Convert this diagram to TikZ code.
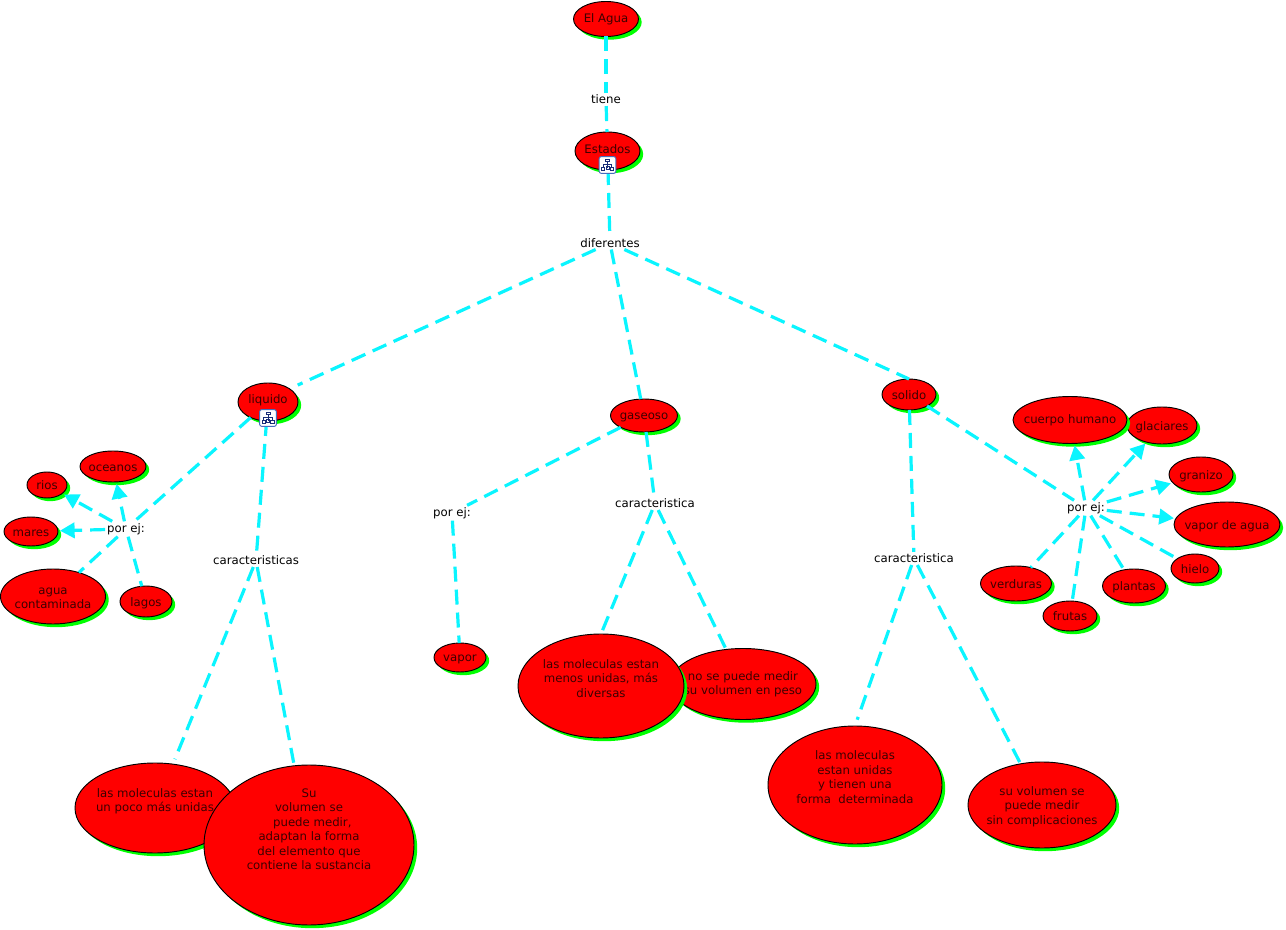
\documentclass[tikz,border=0pt]{standalone}
\usepackage{fontspec}
\setmainfont{DejaVu Sans}
\usetikzlibrary{shapes.geometric,shadows,arrows.meta}
\newlength\pxu \setlength\pxu{0.75pt}
\newcommand\nt[2][0]{\vbox to 0pt{\vss\hbox to 0pt{\hss\raisebox{\dimexpr #1\pxu-3.5pt}[0pt][0pt]{\begin{tabular}{@{}c@{}}#2\end{tabular}}\hss}\vss}}
\definecolor{linecol}{RGB}{10,245,255}
\definecolor{icn}{RGB}{25,45,120}
\definecolor{bubtext}{RGB}{60,0,0}
\tikzset{
 bub/.style 2 args={ellipse,draw=black,line width=0.7pt,fill=red,inner sep=0pt,outer sep=0pt,
   minimum width=#1*0.75pt,minimum height=#2*0.75pt,text=bubtext,
   drop shadow={shadow xshift=2.4pt,shadow yshift=-2.4pt,fill={rgb,255:red,0;green,255;blue,0},opacity=1}},
 lab/.style={inner sep=1.5pt,outer sep=0pt,text=black},
 conn/.style={draw=linecol,line width=2.4pt,dash pattern=on 11.25pt off 6pt},
 arr/.style={conn,-{Triangle[length=11pt,width=11.5pt]},shorten >=1.5pt},
 iconbox/.style={draw={rgb,255:red,70;green,110;blue,190},line width=0.7pt,fill=white,rounded corners=1.5pt,minimum size=12.5pt,inner sep=0pt,outer sep=0pt},
}
\newcommand\treeicon[2]{%
 \node[iconbox] (#1) at (#2) {};
 \begin{scope}[shift={(#1.center)},draw=icn,line width=0.55pt]
  \draw (-2,-6) rectangle (2,-3.2);
  \draw (0,-3.2) -- (0,2.6);
  \draw (-4.2,2.6) -- (-4.2,-0.8) -- (4.2,-0.8) -- (4.2,2.6);
  \draw (-6,2.6) rectangle (-2.8,5.6);
  \draw (-1.4,1.4) rectangle (1.4,4);
  \draw (2.8,2.6) rectangle (6,5.6);
 \end{scope}}
\begin{document}
\begin{tikzpicture}[x=0.75pt,y=-0.75pt,font=\fontsize{8.8}{10.9}\selectfont]
\useasboundingbox[fill=white] (0,0) rectangle (1286,930);
% top
\node[bub={65}{35}] (agua) at (606,19) {\nt[1]{El Agua}};
\node[bub={65}{38}] (estados) at (607.5,151) {\nt[2]{Estados}};
\node[lab] (tiene) at (606,99.5) {tiene};
\node[lab] (dif) at (610,243) {diferentes};
\node[bub={60}{38}] (liquido) at (268,402) {\nt[3]{liquido}};
\node[bub={67}{33}] (gaseoso) at (644,415.5) {\nt[1]{gaseoso}};
\node[bub={54}{31}] (solido) at (909,394.5) {\nt[0]{solido}};
\coordinate (lq) at (268,398.6);
% left group
\node[lab] (pl) at (126,529) {por ej:};
\node[lab] (cl) at (256,560.5) {caracteristicas};
\node[bub={66}{31}] (oceanos) at (113,466.5) {\nt{oceanos}};
\node[bub={40}{26}] (rios) at (47,485) {\nt{rios}};
\node[bub={54}{29}] (mares) at (31,531.5) {\nt{mares}};
\node[bub={105}{55}] (contam) at (53,596.5) {\nt[-0.5]{agua\\contaminada}};
\node[bub={52}{31}] (lagos) at (146,601.5) {\nt{lagos}};
\node[bub={160}{90}] (mpoco) at (155,808) {\nt[8]{las moleculas estan\\un poco más unidas}};
\node[bub={210}{160}] (suvol) at (309,845) {\nt[16]{Su\\volumen se\\\hspace{5pt}puede medir,\\adaptan la forma\\del elemento que\\contiene la sustancia}};
% middle group
\node[lab] (pm) at (452,513) {por ej:};
\node[lab] (cm) at (655,503.5) {caracteristica};
\node[bub={52}{29}] (vapor) at (460,657.5) {\nt[1]{vapor}};
\node[bub={146}{71}] (nose) at (743,684) {\nt[1]{no se puede medir\\su volumen en peso}};
\node[bub={166}{104}] (mmenos) at (601,686) {\nt[8]{las moleculas estan\\menos unidas, más\\diversas}};
% right group
\node[lab] (cr) at (914,558.5) {caracteristica};
\node[lab] (pr) at (1086,508) {por ej:};
\node[bub={174}{118}] (munidas) at (855,785) {\nt[8]{las moleculas\\estan unidas\\y tienen una\\forma\ \ determinada}};
\node[bub={148}{86}] (sucomp) at (1042,805) {\nt[0]{su volumen se\\puede medir\\sin complicaciones}};
\node[bub={70}{37}] (glaciares) at (1162,425.5) {\nt[0]{glaciares}};
\node[bub={114}{47}] (cuerpo) at (1070,420) {\nt[1]{cuerpo humano}};
\node[bub={64}{35}] (granizo) at (1201,474.5) {\nt[0]{granizo}};
\node[bub={106}{45}] (vagua) at (1227,524.5) {\nt[0]{vapor de agua}};
\node[bub={48}{29}] (hielo) at (1195,568.5) {\nt[0]{hielo}};
\node[bub={63}{34}] (plantas) at (1134,586) {\nt[0]{plantas}};
\node[bub={54}{30}] (frutas) at (1070,616) {\nt[0]{frutas}};
\node[bub={71}{35}] (verduras) at (1016,583.5) {\nt[0]{verduras}};
% connectors
\draw[conn] (agua) -- (tiene);
\draw[conn] (tiene) -- (estados);
\draw[conn] (estados) -- (dif);
\draw[conn,shorten >=24.5pt] (dif) -- (lq);
\draw[conn] (dif) -- (gaseoso);
\draw[conn] (dif) -- (solido.north);
\draw[conn] (liquido) -- (pl);
\draw[conn] (liquido) -- (cl);
\draw[arr] (pl) -- (oceanos);
\draw[arr] (pl) -- (rios);
\draw[arr] (pl) -- (mares);
\draw[conn] (pl) -- (contam);
\draw[conn] (pl) -- (lagos);
\draw[conn,shorten >=4pt] (cl) -- (mpoco);
\draw[conn] (cl) -- (suvol);
\draw[conn] (gaseoso) -- (pm);
\draw[conn] (gaseoso) -- (cm);
\draw[conn] (pm) -- (vapor);
\draw[conn] (cm) -- (mmenos.north);
\draw[conn] (cm) -- (nose);
\draw[conn] (solido) -- (cr);
\draw[conn] (solido) -- (pr);
\draw[conn,shorten >=5pt] (cr) -- (munidas.north);
\draw[conn] (cr) -- (sucomp);
\draw[arr] (pr) -- (cuerpo);
\draw[arr] (pr) -- (glaciares);
\draw[arr] (pr) -- (granizo);
\draw[arr] (pr) -- (vagua);
\draw[conn] (pr) -- (hielo);
\draw[conn] (pr) -- (plantas);
\draw[conn] (pr) -- (frutas);
\draw[conn] (pr) -- (verduras);
\treeicon{ie}{607.5,165}
\treeicon{il}{268,418}
\end{tikzpicture}
\end{document}
